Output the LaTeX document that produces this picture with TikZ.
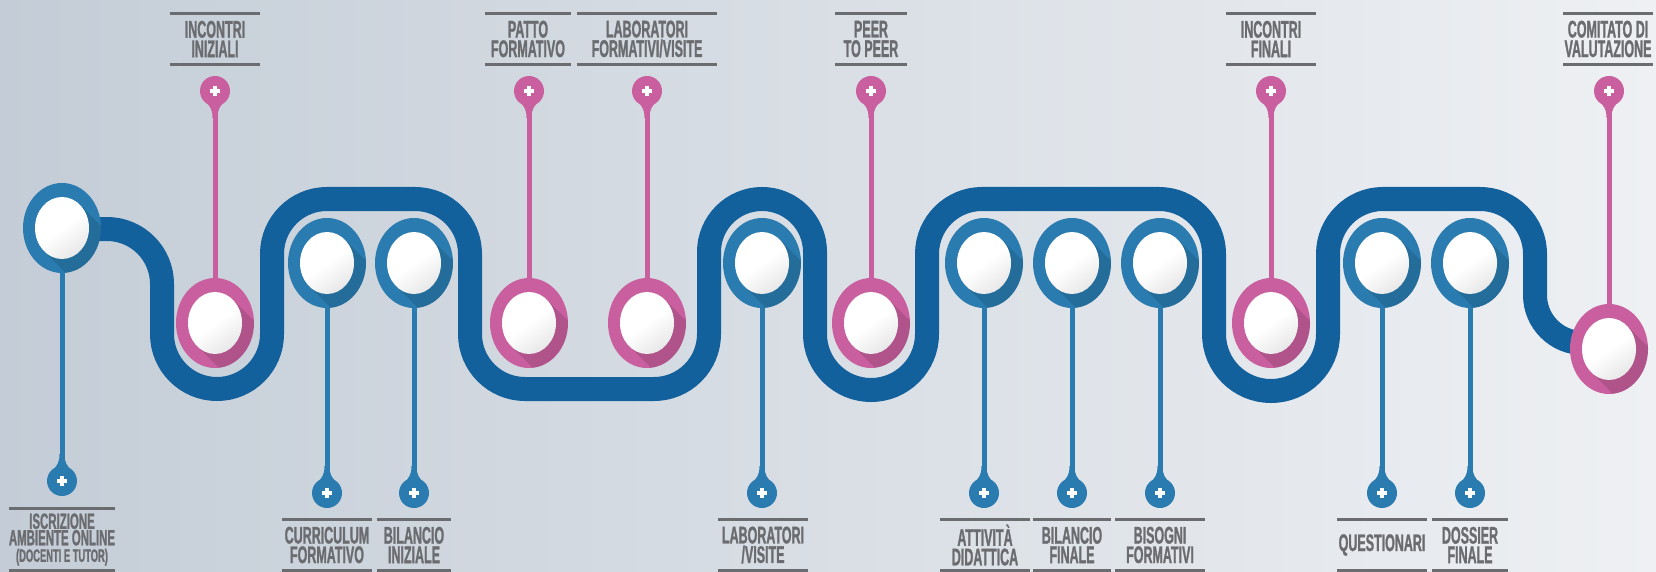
\documentclass[tikz,border=0pt]{standalone}
\usepackage{fontspec}
\newfontfamily\tagfont[FakeStretch=0.52,FakeBold=1.1]{Liberation Sans}
\usetikzlibrary{shapes.geometric}

\definecolor{trackblue}{HTML}{12609C}
\definecolor{ringblue}{HTML}{2A7BAF}
\definecolor{ringpink}{HTML}{C95F9F}
\definecolor{tagtext}{HTML}{6B6C6F}
\definecolor{bgleft}{HTML}{C4CDD7}
\definecolor{bgmid}{HTML}{DCE1E7}
\definecolor{bgright}{HTML}{EEF0F3}

% tapered neck of a pin, towards its stalk
\newcommand{\neckup}[2]{\fill[#2] ([shift={(-11pt,9pt)}]#1.center)
  .. controls ([shift={(-5pt,15pt)}]#1.center) and ([shift={(-2.5pt,18pt)}]#1.center) .. ([shift={(-2.5pt,27pt)}]#1.center)
  -- ([shift={(2.5pt,27pt)}]#1.center)
  .. controls ([shift={(2.5pt,18pt)}]#1.center) and ([shift={(5pt,15pt)}]#1.center) .. ([shift={(11pt,9pt)}]#1.center) -- cycle;}
\newcommand{\neckdown}[2]{\fill[#2] ([shift={(-11pt,-9pt)}]#1.center)
  .. controls ([shift={(-5pt,-15pt)}]#1.center) and ([shift={(-2.5pt,-18pt)}]#1.center) .. ([shift={(-2.5pt,-27pt)}]#1.center)
  -- ([shift={(2.5pt,-27pt)}]#1.center)
  .. controls ([shift={(2.5pt,-18pt)}]#1.center) and ([shift={(5pt,-15pt)}]#1.center) .. ([shift={(11pt,-9pt)}]#1.center) -- cycle;}

\begin{document}
\begin{tikzpicture}[x=1pt, y=-1pt,
  track/.style={draw=trackblue, line width=24pt},
  ring/.style={ellipse, fill=#1, inner sep=0pt, minimum width=78pt, minimum height=90pt,
    path picture={
      \coordinate (ppc) at (path picture bounding box.center);
      \fill[black, opacity=.12] ([shift={(19pt,22pt)}]ppc) -- ([shift={(109pt,-68pt)}]ppc)
        -- ([shift={(71pt,-112pt)}]ppc) -- ([shift={(-19pt,-22pt)}]ppc) -- cycle;
      \shade[top color=white, bottom color=black!9, middle color=white, shading angle=35]
        (ppc) ellipse (27pt and 31pt);}},
  pin/.style={circle, fill=#1, inner sep=0pt, minimum size=30pt,
    path picture={
      \draw[white, line width=3.5pt]
        ([xshift=-5pt]path picture bounding box.center) -- ([xshift=5pt]path picture bounding box.center)
        ([yshift=-5pt]path picture bounding box.center) -- ([yshift=5pt]path picture bounding box.center);}},
  stalk/.style={draw=#1, line width=5pt},
  tag/.style={inner sep=0pt, minimum height=51pt, align=center, text=tagtext,
    font=\tagfont\bfseries\fontsize{24pt}{19.5pt}\selectfont},
  tagline/.style={draw=tagtext, line width=3.5pt}]

\useasboundingbox (0,0) rectangle (1656,572);
\shade[left color=bgleft, middle color=bgmid, right color=bgright] (0,0) rectangle (1656,572);

% the winding track
\draw[track] (62,229) -- (107,229) arc(-90:0:55) -- (162,334) arc(180:0:55)
  -- (272,254) arc(180:270:55) -- (415,199) arc(270:360:55)
  -- (470,334) arc(180:90:55) -- (654,389) arc(90:0:55)
  -- (709,252) arc(180:360:53) -- (815,334) arc(180:0:56)
  -- (927,254) arc(180:270:55) -- (1159,199) arc(270:360:55)
  -- (1214,334) arc(180:0:57) -- (1328,254) arc(180:270:55)
  -- (1480,199) arc(270:360:55) -- (1535,295) arc(180:90:48) -- (1609,343);

% stations
\node[ring=ringblue] (iscr) at (62,228) {};
\node[pin=ringblue] (iscr-pin) at (62,481) {};
\node[tag, minimum width=105pt, minimum height=62pt,
  font=\tagfont\bfseries\fontsize{22pt}{16.5pt}\selectfont] (iscr-tag) at (62,539.5)
  {ISCRIZIONE\\AMBIENTE ONLINE\\{\fontsize{18pt}{14pt}\selectfont (DOCENTI E TUTOR)}};

\node[ring=ringpink] (incini) at (215,323) {};
\node[pin=ringpink] (incini-pin) at (215,91) {};
\node[tag, minimum width=89pt] (incini-tag) at (215,39) {INCONTRI\\INIZIALI};

\node[ring=ringblue] (curr) at (327,263) {};
\node[pin=ringblue] (curr-pin) at (327,493) {};
\node[tag, minimum width=89pt] (curr-tag) at (327,545) {CURRICULUM\\FORMATIVO};

\node[ring=ringblue] (bilini) at (414,263) {};
\node[pin=ringblue] (bilini-pin) at (414,493) {};
\node[tag, minimum width=74pt] (bilini-tag) at (414,545) {BILANCIO\\INIZIALE};

\node[ring=ringpink] (patto) at (529,323) {};
\node[pin=ringpink] (patto-pin) at (529,91) {};
\node[tag, minimum width=86pt] (patto-tag) at (528,39) {PATTO\\FORMATIVO};

\node[ring=ringpink] (labform) at (647,323) {};
\node[pin=ringpink] (labform-pin) at (647,91) {};
\node[tag, minimum width=140pt] (labform-tag) at (647,39) {LABORATORI\\FORMATIVI/VISITE};

\node[ring=ringblue] (labvis) at (762,263) {};
\node[pin=ringblue] (labvis-pin) at (762,493) {};
\node[tag, minimum width=89pt] (labvis-tag) at (763,545) {LABORATORI\\/VISITE};

\node[ring=ringpink] (peer) at (871,323) {};
\node[pin=ringpink] (peer-pin) at (871,91) {};
\node[tag, minimum width=72pt] (peer-tag) at (871,39) {PEER\\TO PEER};

\node[ring=ringblue] (attiv) at (984,263) {};
\node[pin=ringblue] (attiv-pin) at (984,493) {};
\node[tag, minimum width=90pt] (attiv-tag) at (985,545) {ATTIVITÀ\\DIDATTICA};

\node[ring=ringblue] (bilfin) at (1072,263) {};
\node[pin=ringblue] (bilfin-pin) at (1072,493) {};
\node[tag, minimum width=77pt] (bilfin-tag) at (1072,545) {BILANCIO\\FINALE};

\node[ring=ringblue] (bisogni) at (1160,263) {};
\node[pin=ringblue] (bisogni-pin) at (1160,493) {};
\node[tag, minimum width=90pt] (bisogni-tag) at (1160,545) {BISOGNI\\FORMATIVI};

\node[ring=ringpink] (incfin) at (1271,323) {};
\node[pin=ringpink] (incfin-pin) at (1271,91) {};
\node[tag, minimum width=89pt] (incfin-tag) at (1271,39) {INCONTRI\\FINALI};

\node[ring=ringblue] (quest) at (1382,263) {};
\node[pin=ringblue] (quest-pin) at (1382,493) {};
\node[tag, minimum width=89pt] (quest-tag) at (1382,545) {QUESTIONARI};

\node[ring=ringblue] (dossier) at (1470,263) {};
\node[pin=ringblue] (dossier-pin) at (1470,493) {};
\node[tag, minimum width=76pt] (dossier-tag) at (1470,545) {DOSSIER\\FINALE};

\node[ring=ringpink] (comitato) at (1609,349) {};
\node[pin=ringpink] (comitato-pin) at (1609,91) {};
\node[tag, minimum width=89pt] (comitato-tag) at (1608,39) {COMITATO DI\\VALUTAZIONE};

% stalks down to the blue pins
\draw[stalk=ringblue] (iscr) -- (iscr-pin);       \neckup{iscr-pin}{ringblue}
\draw[stalk=ringblue] (curr) -- (curr-pin);       \neckup{curr-pin}{ringblue}
\draw[stalk=ringblue] (bilini) -- (bilini-pin);   \neckup{bilini-pin}{ringblue}
\draw[stalk=ringblue] (labvis) -- (labvis-pin);   \neckup{labvis-pin}{ringblue}
\draw[stalk=ringblue] (attiv) -- (attiv-pin);     \neckup{attiv-pin}{ringblue}
\draw[stalk=ringblue] (bilfin) -- (bilfin-pin);   \neckup{bilfin-pin}{ringblue}
\draw[stalk=ringblue] (bisogni) -- (bisogni-pin); \neckup{bisogni-pin}{ringblue}
\draw[stalk=ringblue] (quest) -- (quest-pin);     \neckup{quest-pin}{ringblue}
\draw[stalk=ringblue] (dossier) -- (dossier-pin); \neckup{dossier-pin}{ringblue}

% stalks up to the pink pins
\draw[stalk=ringpink] (incini) -- (incini-pin);     \neckdown{incini-pin}{ringpink}
\draw[stalk=ringpink] (patto) -- (patto-pin);       \neckdown{patto-pin}{ringpink}
\draw[stalk=ringpink] (labform) -- (labform-pin);   \neckdown{labform-pin}{ringpink}
\draw[stalk=ringpink] (peer) -- (peer-pin);         \neckdown{peer-pin}{ringpink}
\draw[stalk=ringpink] (incfin) -- (incfin-pin);     \neckdown{incfin-pin}{ringpink}
\draw[stalk=ringpink] (comitato) -- (comitato-pin); \neckdown{comitato-pin}{ringpink}

% rules above and below every tag
\draw[tagline] (iscr-tag.north west) -- (iscr-tag.north east) (iscr-tag.south west) -- (iscr-tag.south east);
\draw[tagline] (incini-tag.north west) -- (incini-tag.north east) (incini-tag.south west) -- (incini-tag.south east);
\draw[tagline] (curr-tag.north west) -- (curr-tag.north east) (curr-tag.south west) -- (curr-tag.south east);
\draw[tagline] (bilini-tag.north west) -- (bilini-tag.north east) (bilini-tag.south west) -- (bilini-tag.south east);
\draw[tagline] (patto-tag.north west) -- (patto-tag.north east) (patto-tag.south west) -- (patto-tag.south east);
\draw[tagline] (labform-tag.north west) -- (labform-tag.north east) (labform-tag.south west) -- (labform-tag.south east);
\draw[tagline] (labvis-tag.north west) -- (labvis-tag.north east) (labvis-tag.south west) -- (labvis-tag.south east);
\draw[tagline] (peer-tag.north west) -- (peer-tag.north east) (peer-tag.south west) -- (peer-tag.south east);
\draw[tagline] (attiv-tag.north west) -- (attiv-tag.north east) (attiv-tag.south west) -- (attiv-tag.south east);
\draw[tagline] (bilfin-tag.north west) -- (bilfin-tag.north east) (bilfin-tag.south west) -- (bilfin-tag.south east);
\draw[tagline] (bisogni-tag.north west) -- (bisogni-tag.north east) (bisogni-tag.south west) -- (bisogni-tag.south east);
\draw[tagline] (incfin-tag.north west) -- (incfin-tag.north east) (incfin-tag.south west) -- (incfin-tag.south east);
\draw[tagline] (quest-tag.north west) -- (quest-tag.north east) (quest-tag.south west) -- (quest-tag.south east);
\draw[tagline] (dossier-tag.north west) -- (dossier-tag.north east) (dossier-tag.south west) -- (dossier-tag.south east);
\draw[tagline] (comitato-tag.north west) -- (comitato-tag.north east) (comitato-tag.south west) -- (comitato-tag.south east);
\end{tikzpicture}
\end{document}
